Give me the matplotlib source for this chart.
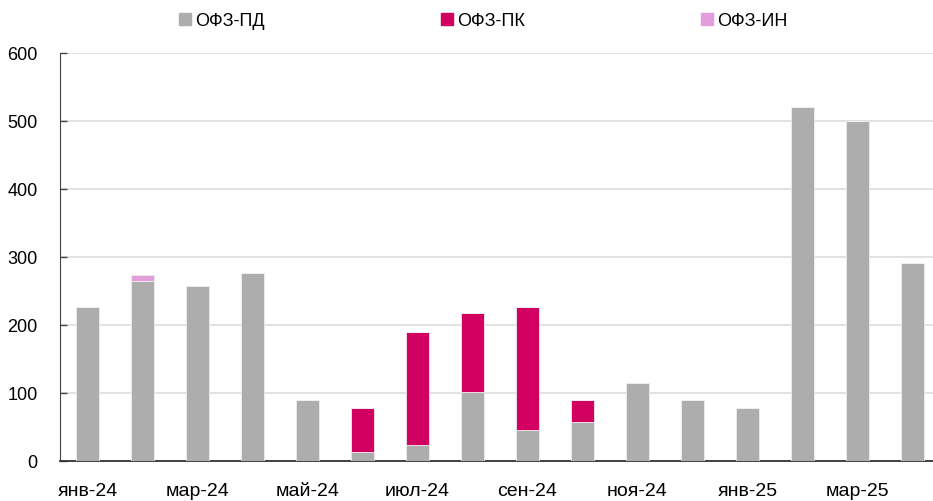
import matplotlib
matplotlib.use("Agg")
import matplotlib.pyplot as plt
from matplotlib.lines import Line2D
import numpy as np

plt.rcParams['font.family'] = ['Liberation Sans Narrow', 'Liberation Sans', 'DejaVu Sans']

months = ["янв-24", "фев-24", "мар-24", "апр-24", "май-24", "июн-24", "июл-24", "авг-24",
          "сен-24", "окт-24", "ноя-24", "дек-24", "янв-25", "фев-25", "мар-25", "апр-25"]
ofz_pd = [226, 265, 257, 276, 89, 13, 24, 101, 46, 57, 115, 90, 78, 521, 500, 291]
ofz_pk = [0, 0, 0, 0, 0, 65, 166, 116, 180, 32, 0, 0, 0, 0, 0, 0]
ofz_in = [0, 8, 0, 0, 0, 0, 0, 0, 0, 0, 0, 0, 0, 0, 0, 0]
series_names = ["ОФЗ-ПД", "ОФЗ-ПК", "ОФЗ-ИН"]
colors = ["#adadad", "#d10061", "#e49ddb"]
yticks = [0, 100, 200, 300, 400, 500, 600]

fig = plt.figure(figsize=(9.33, 5.02), dpi=100)
ax = fig.add_axes([60 / 933, 1 - 462 / 502, 880 / 933, 408 / 502])

x = np.arange(len(months))
w = 0.41
bottom = np.zeros(len(months))
for vals, c in zip([ofz_pd, ofz_pk, ofz_in], colors):
    v = np.array(vals, dtype=float)
    ax.bar(x, v, w, bottom=bottom, color=c, edgecolor="#eeeeee", linewidth=0.6, zorder=3)
    bottom += v

ax.set_xlim(-0.5, len(months) - 0.5)
ax.set_ylim(0, 600)
ax.set_yticks(yticks)
ax.set_yticklabels([str(t) for t in yticks], fontsize=13)
ax.yaxis.grid(True, color="#dddddd", linewidth=1.2, zorder=0)
ax.set_xticks(x[::2])
ax.set_xticklabels(months[::2], fontsize=14)
ax.tick_params(axis="x", length=0, pad=15)
ax.tick_params(axis="y", direction="in", length=5, color="#444444", width=1, pad=16)

for s in ["top", "right"]:
    ax.spines[s].set_visible(False)
ax.spines["left"].set_color("#444444")
ax.spines["bottom"].set_color("#333333")
ax.spines["bottom"].set_linewidth(1.3)

handles = [Line2D([], [], marker="s", linestyle="none", markersize=8,
                  markerfacecolor=c, markeredgecolor=c) for c in colors]
fig.legend(handles, series_names, loc="center", bbox_to_anchor=(482 / 933, 1 - 22 / 502),
           ncol=3, frameon=False, fontsize=13, handletextpad=0.05, columnspacing=9.6,
           handlelength=1.0)

fig.savefig("out.png", dpi=100)
